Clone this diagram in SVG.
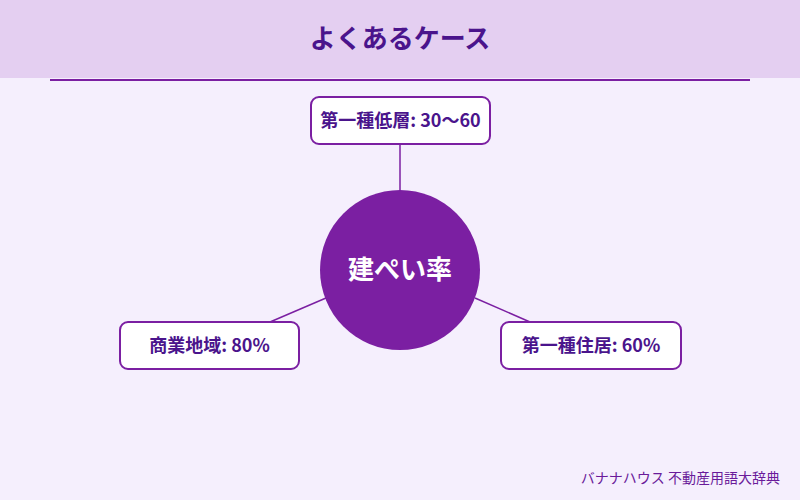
<svg xmlns="http://www.w3.org/2000/svg" width="800" height="500" viewBox="0 0 800 500">
<style>
.t{font-family:"Noto Sans CJK JP","Noto Sans",sans-serif;font-weight:bold;fill:#4a148c;}
.box{fill:#fff;stroke:#7b1fa2;stroke-width:2;}
.c{stroke:#7b1fa2;stroke-width:1.5;fill:none;}
</style>
<rect width="800" height="500" fill="#f5effd"/>
<rect width="800" height="78" fill="#e4cff1"/>
<text class="t" x="400" y="48" text-anchor="middle" font-size="26">よくあるケース</text>
<line x1="50" y1="80" x2="750" y2="80" stroke="#7b1fa2" stroke-width="2"/>
<g id="connectors">
<line class="c" x1="400" y1="144" x2="400" y2="190"/>
<line class="c" x1="270" y1="322" x2="326" y2="298"/>
<line class="c" x1="475" y1="298" x2="530" y2="322"/>
</g>
<g id="center">
<circle cx="400" cy="270" r="80" fill="#7b1fa2"/>
<text x="400" y="279" text-anchor="middle" font-size="26" font-weight="bold" fill="#fff" font-family="Noto Sans CJK JP,sans-serif">建ぺい率</text>
</g>
<g id="n1">
<rect class="box" x="311" y="97" width="179" height="47" rx="8"/>
<text class="t" x="400.5" y="127" text-anchor="middle" font-size="18">第一種低層: 30〜60</text>
</g>
<g id="n2">
<rect class="box" x="120" y="322" width="179" height="47" rx="8"/>
<text class="t" x="209.5" y="352" text-anchor="middle" font-size="18">商業地域: 80%</text>
</g>
<g id="n3">
<rect class="box" x="501" y="322" width="180" height="47" rx="8"/>
<text class="t" x="591" y="352" text-anchor="middle" font-size="18">第一種住居: 60%</text>
</g>
<text x="780" y="483" text-anchor="end" font-size="14" fill="#6a1b9a" font-family="Noto Sans CJK JP,sans-serif">バナナハウス 不動産用語大辞典</text>
</svg>
